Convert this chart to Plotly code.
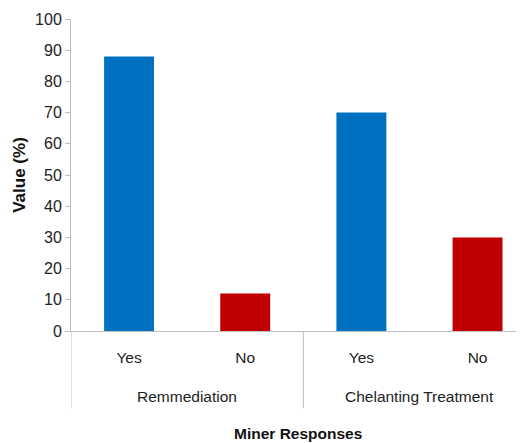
import plotly.graph_objects as go

groups = ["Remmediation", "Remmediation", "Chelanting Treatment", "Chelanting Treatment"]
responses = ["Yes", "No", "Yes", "No"]
values = [88, 12, 70, 30]
colors = ["#0070C0", "#C00000", "#0070C0", "#C00000"]

font_family = "Liberation Sans Narrow, Arial Narrow, Liberation Sans, Arial"
text_color = "#222222"
axis_color = "#BFBFBF"

keys = [f"{g}|{r}" for g, r in zip(groups, responses)]

fig = go.Figure(go.Bar(x=keys, y=values, marker=dict(color=colors, line=dict(width=0))))

# group spans (index ranges) derived from data
spans = []
for i, g in enumerate(groups):
    if spans and spans[-1][0] == g:
        spans[-1][2] = i
    else:
        spans.append([g, i, i])

annotations = []
shapes = []
for g, a, b in spans:
    annotations.append(dict(x=(a + b) / 2, y=-0.2115, xref="x", yref="paper",
                            text=g, showarrow=False, yanchor="middle",
                            font=dict(size=15.5, family=font_family, color=text_color)))
    shapes.append(dict(type="line", xref="x", yref="paper", x0=a - 0.5, x1=a - 0.5,
                       y0=0, y1=-0.247, line=dict(color=axis_color, width=1)))

annotations.append(dict(x=0.5, y=-0.327, xref="paper", yref="paper",
                        text="<b>Miner Responses</b>", showarrow=False, yanchor="middle",
                        font=dict(size=15.5, family=font_family, color="#111111")))

fig.update_layout(
    width=516, height=435,
    margin=dict(l=63, r=0, t=11, b=112),
    paper_bgcolor="white", plot_bgcolor="white",
    bargap=0.57,
    showlegend=False,
    font=dict(family=font_family, size=14, color=text_color),
    annotations=annotations,
    shapes=shapes,
    xaxis=dict(
        type="category",
        range=[-0.5, 3.4],
        tickvals=keys, ticktext=responses,
        showline=True, linecolor=axis_color, linewidth=1,
        ticks="", showgrid=False, automargin=False,
        ticklabelstandoff=12,
        tickfont=dict(size=15.5, family=font_family, color=text_color),
    ),
    yaxis=dict(
        range=[0, 100], dtick=10,
        showline=True, linecolor=axis_color, linewidth=1,
        ticks="outside", ticklen=5, tickcolor=axis_color,
        showgrid=False, zeroline=False, automargin=False,
        tickfont=dict(size=16, family=font_family, color=text_color),
        title=dict(text="<b>Value (%)</b>", font=dict(size=17, family=font_family, color="#111111"), standoff=5),
    ),
)

fig.write_html("out.html")
